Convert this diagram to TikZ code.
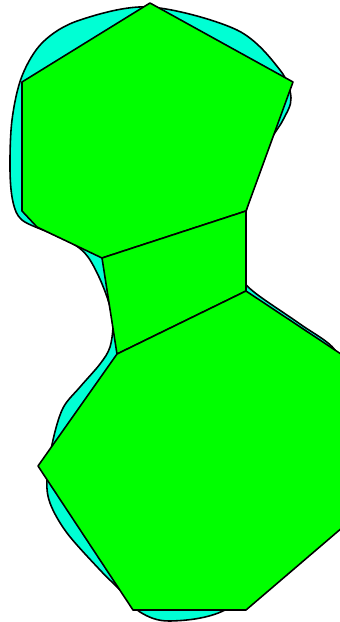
\documentclass[tikz,border=0pt]{standalone}
\usepackage{tikz}
\usetikzlibrary{calc}

\definecolor{blobcyan}{RGB}{0,255,212}
\definecolor{cellgreen}{RGB}{0,255,0}

\begin{document}
\begin{tikzpicture}[x=0.02cm, y=-0.02cm, line join=round]

\tikzset{
    blob/.style={draw=black, line width=0.9pt, fill=blobcyan},
    cell/.style={draw=black, line width=0.9pt, fill=cellgreen}
}

\useasboundingbox (0,0) rectangle (340,622);

% --- Shared vertices (pixel coordinates) ---
\coordinate (top) at (150,3);
\coordinate (ne) at (293,82);
\coordinate (c1) at (246,211);
\coordinate (c2) at (102,258);
\coordinate (c3) at (246,291);
\coordinate (c4) at (117,354);

% --- Background blob ---
\draw[blob] plot[smooth cycle, tension=0.55] coordinates {
    (150,7) (237,30) (280,70) (291,98) (283,120) (268,145) (252,190)
    (240,240) (242,276) (254,292) (300,324) (335,350) (345,385) (340,470)
    (320,525) (290,560) (225,610) (170,621) (140,612) (120,590) (100,570)
    (67,533) (50,503) (47,478) (53,440) (63,408) (80,387) (100,364)
    (110,347) (113,322) (108,300) (99,277) (88,257) (75,245) (50,233)
    (22,220) (13,202) (10,170) (12,120) (22,76) (43,42) (80,20)
};

% --- Top cell ---
\draw[cell] (top) -- (ne) -- (c1) -- (c2) -- (37,227) -- (22,211) -- (22,82) -- cycle;

% --- Middle cell ---
\draw[cell] (c2) -- (c1) -- (c3) -- (c4) -- cycle;

% --- Bottom cell ---
\draw[cell] (c4) -- (c3) -- (350,360) -- (350,521) -- (246,610) -- (133,610) -- (38,466) -- cycle;

\end{tikzpicture}
\end{document}
